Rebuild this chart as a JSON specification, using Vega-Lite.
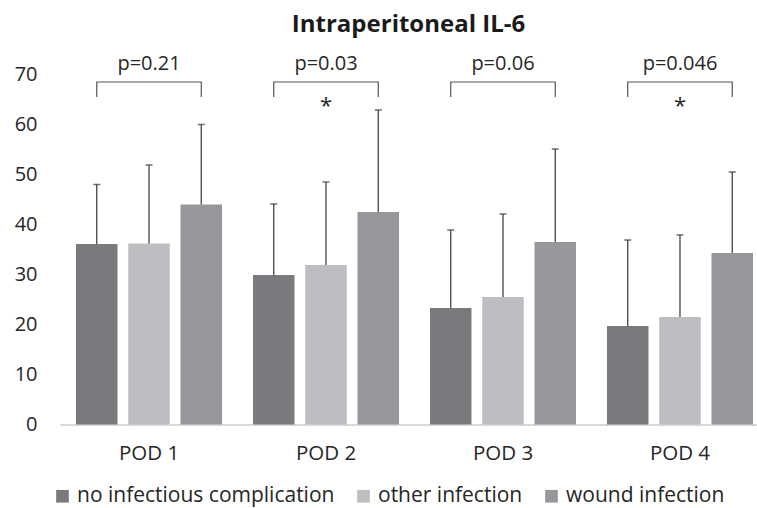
{
  "$schema": "https://vega.github.io/schema/vega-lite/v6.json",
  "autosize": {"type": "none"},
  "padding": {"left": 60, "top": 74.5, "right": 0, "bottom": 83.5},
  "width": 697,
  "height": 350,
  "background": "white",
  "title": {"text": "Intraperitoneal IL-6", "font": "Open Sans", "fontSize": 24, "fontWeight": "bold", "color": "#1a1a1a", "anchor": "middle", "frame": "group", "offset": 17},
  "config": {"view": {"stroke": null}, "font": "Open Sans"},
  "datasets": {
    "bars": [
      {"pod": "POD 1", "cat": "no infectious complication", "mean": 36.1, "upper": 48.0},
      {"pod": "POD 1", "cat": "other infection", "mean": 36.2, "upper": 51.9},
      {"pod": "POD 1", "cat": "wound infection", "mean": 44.0, "upper": 60.0},
      {"pod": "POD 2", "cat": "no infectious complication", "mean": 29.9, "upper": 44.1},
      {"pod": "POD 2", "cat": "other infection", "mean": 31.9, "upper": 48.5},
      {"pod": "POD 2", "cat": "wound infection", "mean": 42.5, "upper": 62.9},
      {"pod": "POD 3", "cat": "no infectious complication", "mean": 23.3, "upper": 38.9},
      {"pod": "POD 3", "cat": "other infection", "mean": 25.5, "upper": 42.1},
      {"pod": "POD 3", "cat": "wound infection", "mean": 36.5, "upper": 55.1},
      {"pod": "POD 4", "cat": "no infectious complication", "mean": 19.7, "upper": 36.9},
      {"pod": "POD 4", "cat": "other infection", "mean": 21.5, "upper": 37.9},
      {"pod": "POD 4", "cat": "wound infection", "mean": 34.3, "upper": 50.5}
    ],
    "brackets": [
      {"pod": "POD 1", "cat": "no infectious complication", "v": 65.5, "ord": 1},
      {"pod": "POD 1", "cat": "no infectious complication", "v": 68.5, "ord": 2},
      {"pod": "POD 1", "cat": "wound infection", "v": 68.5, "ord": 3},
      {"pod": "POD 1", "cat": "wound infection", "v": 65.5, "ord": 4},
      {"pod": "POD 2", "cat": "no infectious complication", "v": 65.5, "ord": 1},
      {"pod": "POD 2", "cat": "no infectious complication", "v": 68.5, "ord": 2},
      {"pod": "POD 2", "cat": "wound infection", "v": 68.5, "ord": 3},
      {"pod": "POD 2", "cat": "wound infection", "v": 65.5, "ord": 4},
      {"pod": "POD 3", "cat": "no infectious complication", "v": 65.5, "ord": 1},
      {"pod": "POD 3", "cat": "no infectious complication", "v": 68.5, "ord": 2},
      {"pod": "POD 3", "cat": "wound infection", "v": 68.5, "ord": 3},
      {"pod": "POD 3", "cat": "wound infection", "v": 65.5, "ord": 4},
      {"pod": "POD 4", "cat": "no infectious complication", "v": 65.5, "ord": 1},
      {"pod": "POD 4", "cat": "no infectious complication", "v": 68.5, "ord": 2},
      {"pod": "POD 4", "cat": "wound infection", "v": 68.5, "ord": 3},
      {"pod": "POD 4", "cat": "wound infection", "v": 65.5, "ord": 4}
    ],
    "labels": [
      {"pod": "POD 1", "p": "p=0.21", "star": "", "py": 70.9, "sy": 62.4},
      {"pod": "POD 2", "p": "p=0.03", "star": "*", "py": 70.9, "sy": 62.4},
      {"pod": "POD 3", "p": "p=0.06", "star": "", "py": 70.9, "sy": 62.4},
      {"pod": "POD 4", "p": "p=0.046", "star": "*", "py": 70.9, "sy": 62.4}
    ]
  },
  "encoding": {
    "x": {
      "field": "pod", "type": "nominal", "sort": ["POD 1", "POD 2", "POD 3", "POD 4"],
      "scale": {"paddingInner": 0.175, "paddingOuter": 0.0565, "align": 0.8},
      "axis": {"title": null, "labelAngle": 0, "ticks": false, "domainColor": "#cccccc", "domainWidth": 1.5, "labelFont": "Open Sans", "labelFontSize": 20.5, "labelColor": "#262626", "labelPadding": 19}
    }
  },
  "layer": [
    {
      "data": {"name": "bars"},
      "mark": {"type": "bar"},
      "encoding": {
        "xOffset": {"field": "cat", "type": "nominal", "sort": ["no infectious complication", "other infection", "wound infection"], "scale": {"paddingInner": 0.206, "paddingOuter": 0}},
        "y": {"field": "mean", "type": "quantitative", "scale": {"domain": [0, 70]},
          "axis": {"title": null, "values": [0, 10, 20, 30, 40, 50, 60, 70], "grid": false, "domain": false, "ticks": false, "labelFont": "Open Sans", "labelFontSize": 20, "labelColor": "#262626", "labelPadding": 23}},
        "color": {"field": "cat", "type": "nominal", "sort": ["no infectious complication", "other infection", "wound infection"],
          "scale": {"domain": ["no infectious complication", "other infection", "wound infection"], "range": ["#7a7a7e", "#bebec2", "#97979b"]},
          "legend": {"title": null, "orient": "none", "direction": "horizontal", "legendX": -8, "legendY": 411, "padding": 0, "symbolType": "square", "symbolSize": 160, "symbolStrokeWidth": 0, "symbolOpacity": 1, "labelFont": "Open Sans", "labelFontSize": 21, "labelLimit": 0, "labelColor": "#262626", "columnPadding": 18, "labelOffset": 4}}
      }
    },
    {
      "data": {"name": "bars"},
      "mark": {"type": "rule", "color": "#444444", "strokeWidth": 1.3},
      "encoding": {
        "xOffset": {"field": "cat", "type": "nominal", "sort": ["no infectious complication", "other infection", "wound infection"]},
        "y": {"field": "mean", "type": "quantitative"},
        "y2": {"field": "upper"}
      }
    },
    {
      "data": {"name": "bars"},
      "mark": {"type": "tick", "color": "#333333", "size": 7, "thickness": 1.5},
      "encoding": {
        "xOffset": {"field": "cat", "type": "nominal", "sort": ["no infectious complication", "other infection", "wound infection"]},
        "y": {"field": "upper", "type": "quantitative"}
      }
    },
    {
      "data": {"name": "brackets"},
      "mark": {"type": "line", "color": "#555555", "strokeWidth": 1.2, "clip": false},
      "encoding": {
        "xOffset": {"field": "cat", "type": "nominal", "sort": ["no infectious complication", "other infection", "wound infection"]},
        "y": {"field": "v", "type": "quantitative"},
        "detail": {"field": "pod"},
        "order": {"field": "ord", "type": "quantitative"}
      }
    },
    {
      "data": {"name": "labels"},
      "mark": {"type": "text", "font": "Open Sans", "fontSize": 20, "color": "#262626", "baseline": "alphabetic"},
      "encoding": {
        "y": {"field": "py", "type": "quantitative"},
        "text": {"field": "p"}
      }
    },
    {
      "data": {"name": "labels"},
      "mark": {"type": "text", "font": "Open Sans", "fontSize": 22, "color": "#262626", "baseline": "alphabetic"},
      "encoding": {
        "y": {"field": "sy", "type": "quantitative"},
        "text": {"field": "star"}
      }
    }
  ]
}
